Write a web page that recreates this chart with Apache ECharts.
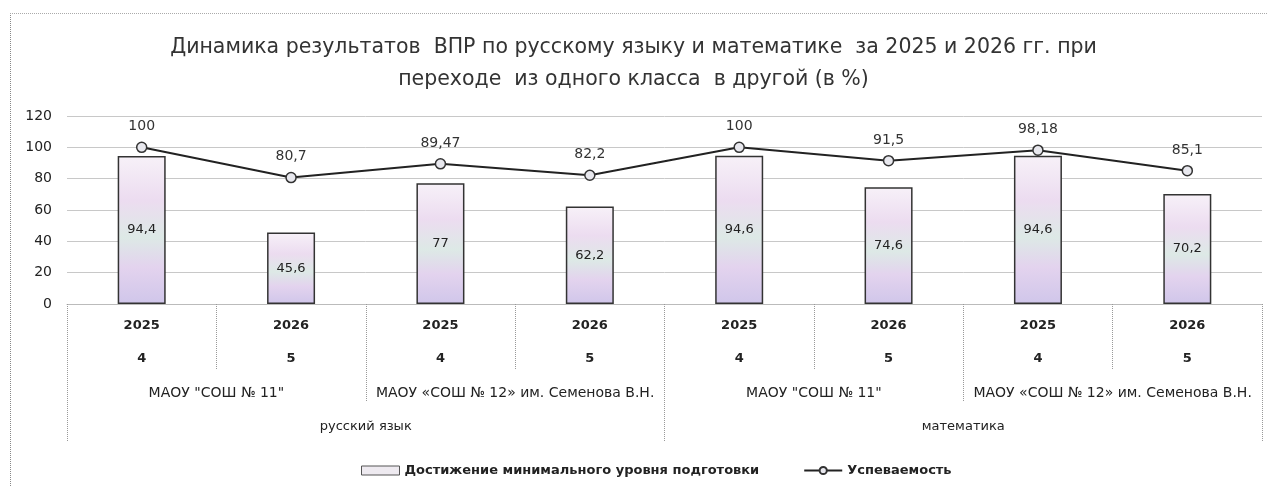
<!DOCTYPE html>
<html>
<head>
<meta charset="utf-8">
<script src="https://cdn.jsdelivr.net/npm/echarts@6/dist/echarts.min.js"></script>
<style>
html,body{margin:0;padding:0;background:#fff;}
#chart{width:1267px;height:486px;position:relative;}
#frame{position:absolute;left:10px;top:13px;width:1300px;height:500px;border-left:1px dotted #888;border-top:1px dotted #aaa;pointer-events:none;}
</style>
</head>
<body>
<div id="chart"></div>
<div id="frame"></div>
<script>
const titleText = 'Динамика результатов  ВПР по русскому языку и математике  за 2025 и 2026 гг. при\nпереходе  из одного класса  в другой (в %)';
const years = ['2025','2026','2025','2026','2025','2026','2025','2026'];
const grades = ['4','5','4','5','4','5','4','5'];
const schools = ['МАОУ "СОШ № 11"','МАОУ «СОШ № 12» им. Семенова В.Н.','МАОУ "СОШ № 11"','МАОУ «СОШ № 12» им. Семенова В.Н.'];
const subjects = ['русский язык','математика'];
const barName = 'Достижение минимального уровня подготовки';
const lineName = 'Успеваемость';
const barValues = [94.4, 45.6, 77, 62.2, 94.6, 74.6, 94.6, 70.2];
const lineValues = [100, 80.7, 89.47, 82.2, 100, 91.5, 98.18, 85.1];
const yTicks = [0, 20, 40, 60, 80, 100, 120];

const FONT = "'DejaVu Sans', sans-serif";
const comma = p => String(p.value).replace('.', ',');
const sepStyle = {color:'#999', type:'dotted', width:1};

const barFill = new echarts.graphic.LinearGradient(0,0,0,1,[
  {offset:0, color:'#f7f1f8'},
  {offset:0.3, color:'#ecdcf0'},
  {offset:0.55, color:'#dde9e6'},
  {offset:0.75, color:'#e3d3ee'},
  {offset:1, color:'#d0c6ea'}
]);

const chart = echarts.init(document.getElementById('chart'), null, {renderer:'canvas'});
chart.setOption({
  animation:false,
  backgroundColor:'#fff',
  textStyle:{fontFamily:FONT},
  title:{
    text:titleText, left:'center', top:27,
    textStyle:{fontFamily:FONT, fontSize:20.5, fontWeight:'normal', color:'#333', lineHeight:32}
  },
  legend:{
    top:459, left:356, itemGap:44, itemWidth:38, itemHeight:9,
    textStyle:{fontFamily:FONT, fontSize:13, color:'#222', fontWeight:'bold'},
    data:[
      {name:barName, icon:'rect', itemStyle:{color:'#eeeaf0', borderColor:'#555', borderWidth:1}},
      {name:lineName}
    ]
  },
  grid:{left:67, right:5, top:116, bottom:182, containLabel:false},
  yAxis:{
    type:'value', min:0, max:120, interval:20,
    axisLine:{show:false}, axisTick:{show:false},
    axisLabel:{fontFamily:FONT, fontSize:14, color:'#222', margin:15, formatter:v=>yTicks.includes(v)?String(v):''},
    splitLine:{lineStyle:{color:'#c8c8c8', width:1}}
  },
  xAxis:[
    {type:'category', data:years, position:'bottom',
     axisLine:{show:true, lineStyle:{color:'#bbb', width:1}},
     axisTick:{show:true, interval:0, length:66, lineStyle:sepStyle},
     axisLabel:{interval:0, margin:15, fontFamily:FONT, fontSize:13, fontWeight:'bold', color:'#222'}},
    {type:'category', data:grades, position:'bottom',
     axisLine:{show:false}, axisTick:{show:false},
     axisLabel:{interval:0, margin:48, fontFamily:FONT, fontSize:13, fontWeight:'bold', color:'#222'}},
    {type:'category', data:schools, position:'bottom',
     axisLine:{show:false},
     axisTick:{show:true, interval:0, length:98, lineStyle:sepStyle},
     axisLabel:{interval:0, margin:82, fontFamily:FONT, fontSize:14, color:'#222'}},
    {type:'category', data:subjects, position:'bottom',
     axisLine:{show:false},
     axisTick:{show:true, interval:0, length:137, lineStyle:sepStyle},
     axisLabel:{interval:0, margin:116, fontFamily:FONT, fontSize:13, color:'#222'}}
  ],
  series:[
    {name:barName, type:'bar', xAxisIndex:0, data:barValues, barWidth:48,
     itemStyle:{color:barFill, borderColor:'#333', borderWidth:1.5},
     label:{show:true, position:'inside', formatter:comma, fontFamily:FONT, fontSize:13, color:'#222'}},
    {name:lineName, type:'line', xAxisIndex:0, data:lineValues,
     symbol:'circle', symbolSize:10,
     lineStyle:{color:'#222', width:2},
     itemStyle:{color:'#e8e8ee', borderColor:'#333', borderWidth:1.5},
     label:{show:true, position:'top', distance:8, formatter:comma, fontFamily:FONT, fontSize:14, color:'#333'},
     z:5}
  ]
});
</script>
</body>
</html>
